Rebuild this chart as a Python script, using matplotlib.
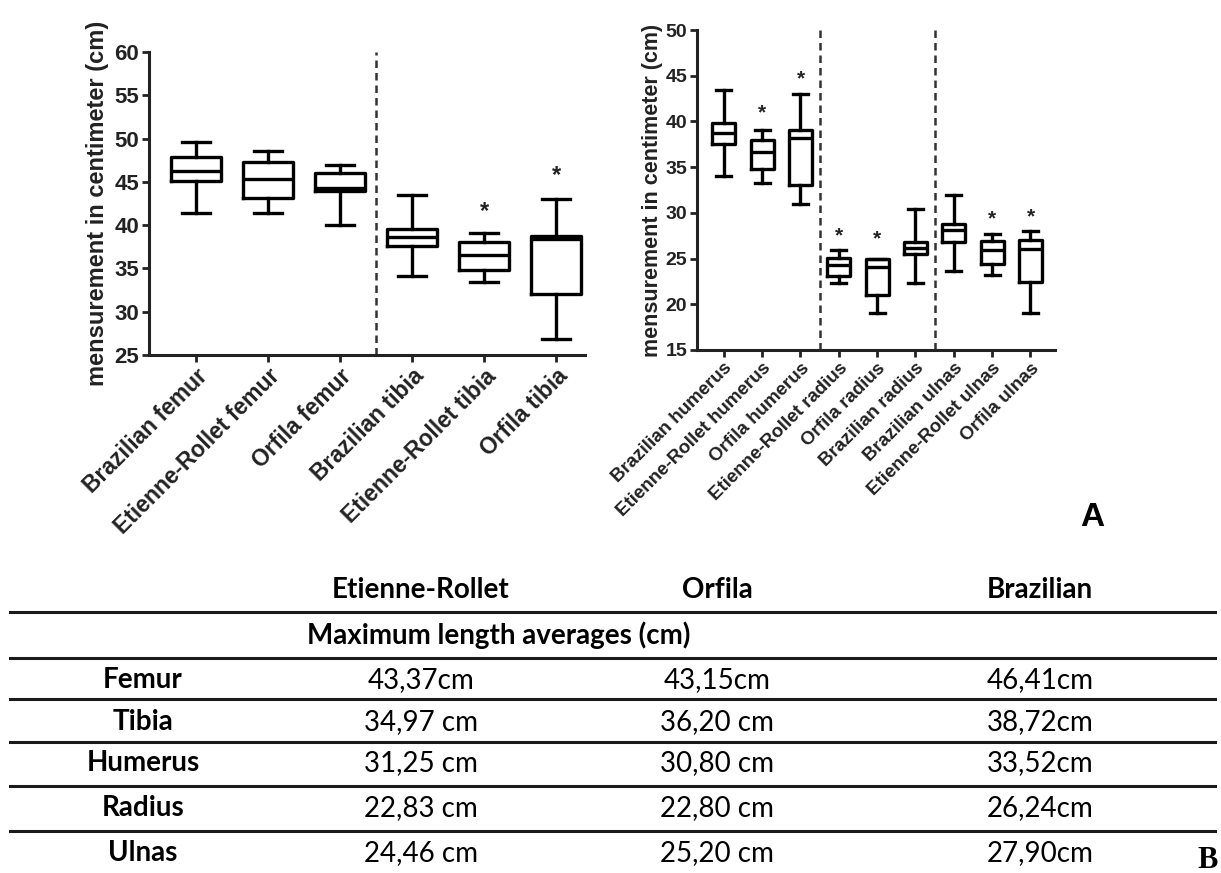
import matplotlib.pyplot as plt
from matplotlib.lines import Line2D

# ---- panel A, left: femur / tibia ----
leg_labels = ["Brazilian femur", "Etienne-Rollet femur", "Orfila femur",
              "Brazilian tibia", "Etienne-Rollet tibia", "Orfila tibia"]
leg_whislo = [41.4, 41.4, 40.0, 34.1, 33.4, 26.9]
leg_q1 = [45.1, 43.1, 43.9, 37.6, 34.8, 32.1]
leg_med = [46.2, 45.3, 44.3, 38.6, 36.6, 38.4]
leg_q3 = [47.9, 47.3, 46.0, 39.6, 38.1, 38.8]
leg_whishi = [49.6, 48.6, 46.9, 43.5, 39.1, 43.0]
leg_star_idx = [4, 5]
leg_star_y = [41.6, 45.7]
leg_split = [2.5]

# ---- panel A, right: humerus / radius / ulnas ----
arm_labels = ["Brazilian humerus", "Etienne-Rollet humerus", "Orfila humerus",
              "Etienne-Rollet radius", "Orfila radius", "Brazilian radius",
              "Brazilian ulnas", "Etienne-Rollet ulnas", "Orfila ulnas"]
arm_whislo = [34.0, 33.3, 31.0, 22.3, 19.0, 22.3, 23.6, 23.2, 19.0]
arm_q1 = [37.5, 34.8, 33.1, 23.1, 21.0, 25.5, 26.85, 24.4, 22.4]
arm_med = [38.7, 36.7, 38.15, 24.3, 24.1, 26.2, 28.1, 25.9, 26.0]
arm_q3 = [39.8, 38.0, 39.1, 25.1, 25.0, 26.85, 28.8, 26.95, 27.0]
arm_whishi = [43.4, 39.1, 43.0, 25.9, 25.0, 30.4, 31.95, 27.65, 28.05]
arm_star_idx = [1, 2, 3, 4, 7, 8]
arm_star_y = [40.9, 44.7, 27.5, 27.2, 29.3, 29.6]
arm_split = [2.5, 5.5]

# ---- panel B table ----
tab_cols = ["Etienne-Rollet", "Orfila", "Brazilian"]
tab_subtitle = "Maximum length averages (cm)"
tab_rows = ["Femur", "Tibia", "Humerus", "Radius", "Ulnas"]
tab_er = ["43,37cm", "34,97 cm", "31,25 cm", "22,83 cm", "24,46 cm"]
tab_orfila = ["43,15cm", "36,20 cm", "30,80 cm", "22,80 cm", "25,20 cm"]
tab_brazil = ["46,41cm", "38,72cm", "33,52cm", "26,24cm", "27,90cm"]

W, H = 1221, 873
fig = plt.figure(figsize=(W / 100, H / 100), dpi=100)
plt.rcParams['font.family'] = ['Liberation Sans', 'DejaVu Sans']


def box_panel(ax, labels, lo, q1, med, q3, hi, star_idx, star_y, splits,
              width, capw, xlim, ylim, xt_fs, yt_fs, lab_fs, star_fs):
    stats = [dict(label=l, whislo=a, q1=b, med=c, q3=d, whishi=e, fliers=[])
             for l, a, b, c, d, e in zip(labels, lo, q1, med, q3, hi)]
    lp = dict(color='black', linewidth=2.4)
    ax.bxp(stats, positions=range(len(labels)), widths=width,
           capwidths=capw, showfliers=False, boxprops=lp, medianprops=lp,
           whiskerprops=lp, capprops=lp, manage_ticks=False)
    for i, y in zip(star_idx, star_y):
        ax.text(i, y, "*", ha='center', va='center', fontsize=star_fs,
                fontweight='bold', color='#222222')
    for s in splits:
        ax.axvline(s, color='#333333', lw=1.8, ls=(0, (3, 2)))
    ax.set_xlim(*xlim)
    ax.set_ylim(*ylim)
    ax.set_yticks(range(ylim[0], ylim[1] + 1, 5))
    ax.set_xticks(range(len(labels)))
    ax.set_xticklabels(labels, rotation=45, ha='right',
                       rotation_mode='anchor', fontweight='bold',
                       fontsize=xt_fs, color='#222222')
    for t in ax.get_yticklabels():
        t.set_fontweight('bold')
        t.set_fontsize(yt_fs)
        t.set_color('#222222')
    ax.set_ylabel("mensurement in centimeter (cm)", fontweight='bold',
                  fontsize=lab_fs, color='#222222')
    for s in ['top', 'right']:
        ax.spines[s].set_visible(False)
    for s in ['left', 'bottom']:
        ax.spines[s].set_linewidth(2.2)
        ax.spines[s].set_color('#222222')
    ax.tick_params(width=2, length=5, colors='#222222', pad=2)


ax1 = fig.add_axes([149 / W, 1 - 355 / H, (585 - 149) / W, (355 - 52) / H])
box_panel(ax1, leg_labels, leg_whislo, leg_q1, leg_med, leg_q3, leg_whishi,
          leg_star_idx, leg_star_y, leg_split, 0.69, 0.39,
          (-0.65, 5.4), (25, 60), 16.5, 16, 17, 17)
ax1.yaxis.labelpad = 4

ax2 = fig.add_axes([697 / W, 1 - 350 / H, (1055 - 697) / W, (350 - 30) / H])
box_panel(ax2, arm_labels, arm_whislo, arm_q1, arm_med, arm_q3, arm_whishi,
          arm_star_idx, arm_star_y, arm_split, 0.6, 0.39,
          (-0.7, 8.64), (15, 50), 13.5, 14, 15.5, 15)
ax2.yaxis.labelpad = 2

fig.text(1092 / W, 1 - 517 / H, "A", ha='center', va='center',
         fontsize=24, fontweight='bold')

# table
tfont = ['Lato', 'DejaVu Sans']
line_y = [612, 658, 699, 742, 786, 831]
for y in line_y:
    fig.add_artist(Line2D([10 / W, 1215 / W], [1 - y / H, 1 - y / H],
                          color='#1a1a1a', lw=2.2))
col_x = [421, 717, 1040]
row_x = 143
for x, c in zip(col_x, tab_cols):
    fig.text(x / W, 1 - 590 / H, c, ha='center', va='center', fontsize=20,
             fontweight='bold', family=tfont)
fig.text(499 / W, 1 - 635 / H, tab_subtitle, ha='center', va='center',
         fontsize=20, fontweight='bold', family=tfont)
row_y = [680, 722, 763, 808, 853]
for y, r, a, b, c in zip(row_y, tab_rows, tab_er, tab_orfila, tab_brazil):
    fig.text(row_x / W, 1 - y / H, r, ha='center', va='center', fontsize=20,
             fontweight='bold', family=tfont)
    for x, v in zip(col_x, [a, b, c]):
        fig.text(x / W, 1 - y / H, v, ha='center', va='center', fontsize=20,
                 family=tfont)

fig.text(1208 / W, 1 - 868 / H, "B", ha='center', va='baseline',
         fontsize=22, fontweight='bold', family=['Liberation Serif'])

fig.savefig("out.png", dpi=100)
